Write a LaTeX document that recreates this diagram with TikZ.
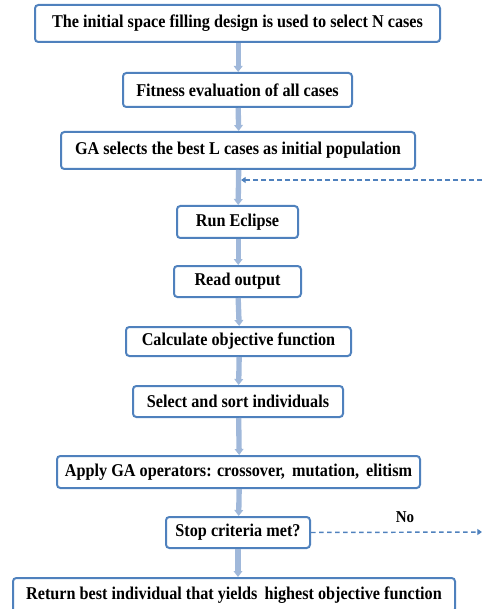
\documentclass[tikz,border=0pt]{standalone}
\usepackage{fontspec}
\setmainfont{Liberation Serif}[FakeStretch=0.9]
\usetikzlibrary{arrows.meta}

\definecolor{boxblue}{RGB}{79,129,189}
\definecolor{arrowblue}{RGB}{160,184,218}

\tikzset{
  stepbox/.style={draw=boxblue, line width=1.5pt, rounded corners=2.5pt, fill=white,
                  font=\fontsize{13.5}{15}\selectfont\bfseries, inner sep=0pt, align=center},
  flowarrow/.style={arrowblue, line width=4pt, -{Triangle[width=6.5pt,length=4.5pt]}},
  loopline/.style={boxblue, line width=1.1pt, dash pattern=on 3.5pt off 2.5pt, -{Triangle[width=4.5pt,length=3.5pt]}}
}

\begin{document}
\begin{tikzpicture}[x=0.75pt, y=-0.75pt]
  \useasboundingbox (0,0) rectangle (482,609);
  % the steps, top to bottom
  \node[stepbox, minimum width=405*0.75pt, minimum height=37*0.75pt] (init)   at (237.5,23.5) {The initial space filling design is used to select N cases};
  \node[stepbox, minimum width=229*0.75pt, minimum height=34*0.75pt] (fit)    at (237.5,90)   {Fitness evaluation of all cases};
  \node[stepbox, minimum width=354*0.75pt, minimum height=37*0.75pt] (pop)    at (238,150.5)  {GA selects the best L cases as initial population};
  \node[stepbox, minimum width=121*0.75pt, minimum height=32*0.75pt] (run)    at (237.5,222)  {Run Eclipse};
  \node[stepbox, minimum width=127*0.75pt, minimum height=31*0.75pt] (read)   at (237.5,281.5){Read output};
  \node[stepbox, minimum width=225*0.75pt, minimum height=29*0.75pt] (calc)   at (238.5,341.5){Calculate objective function};
  \node[stepbox, minimum width=210*0.75pt, minimum height=31*0.75pt] (sort)   at (238,401.5)  {Select and sort individuals};
  \node[stepbox, minimum width=363*0.75pt, minimum height=32*0.75pt] (oper)   at (238.5,472)  {Apply GA operators: crossover,\, mutation,\, elitism};
  \node[stepbox, minimum width=144*0.75pt, minimum height=31*0.75pt] (stop)   at (238,532.5)  {Stop criteria met?};
  \node[stepbox, minimum width=442*0.75pt, minimum height=34*0.75pt] (best)   at (234,595)    {Return best individual that yields\, highest objective function};

  \foreach \a/\b in {init/fit,fit/pop,pop/run,run/read,read/calc,calc/sort,sort/oper,oper/stop}{
    \draw[flowarrow] ([xshift=0.5pt]\a.south) -- ([xshift=0.5pt]\b.north); }
  \draw[flowarrow] (stop.south) -- (stop.south |- best.north);

  % loop back, the right part runs off the edge
  \coordinate (noend)  at (482,532);
  \coordinate (backin) at (482,180);
  \coordinate (backto) at (241,180);
  \draw[loopline] (stop.east) -- node[above, pos=0.55, yshift=3pt, font=\fontsize{12.5}{14}\selectfont\bfseries, text=black]{No} (noend);
  \draw[loopline] (backin) -- (backto);
\end{tikzpicture}
\end{document}
